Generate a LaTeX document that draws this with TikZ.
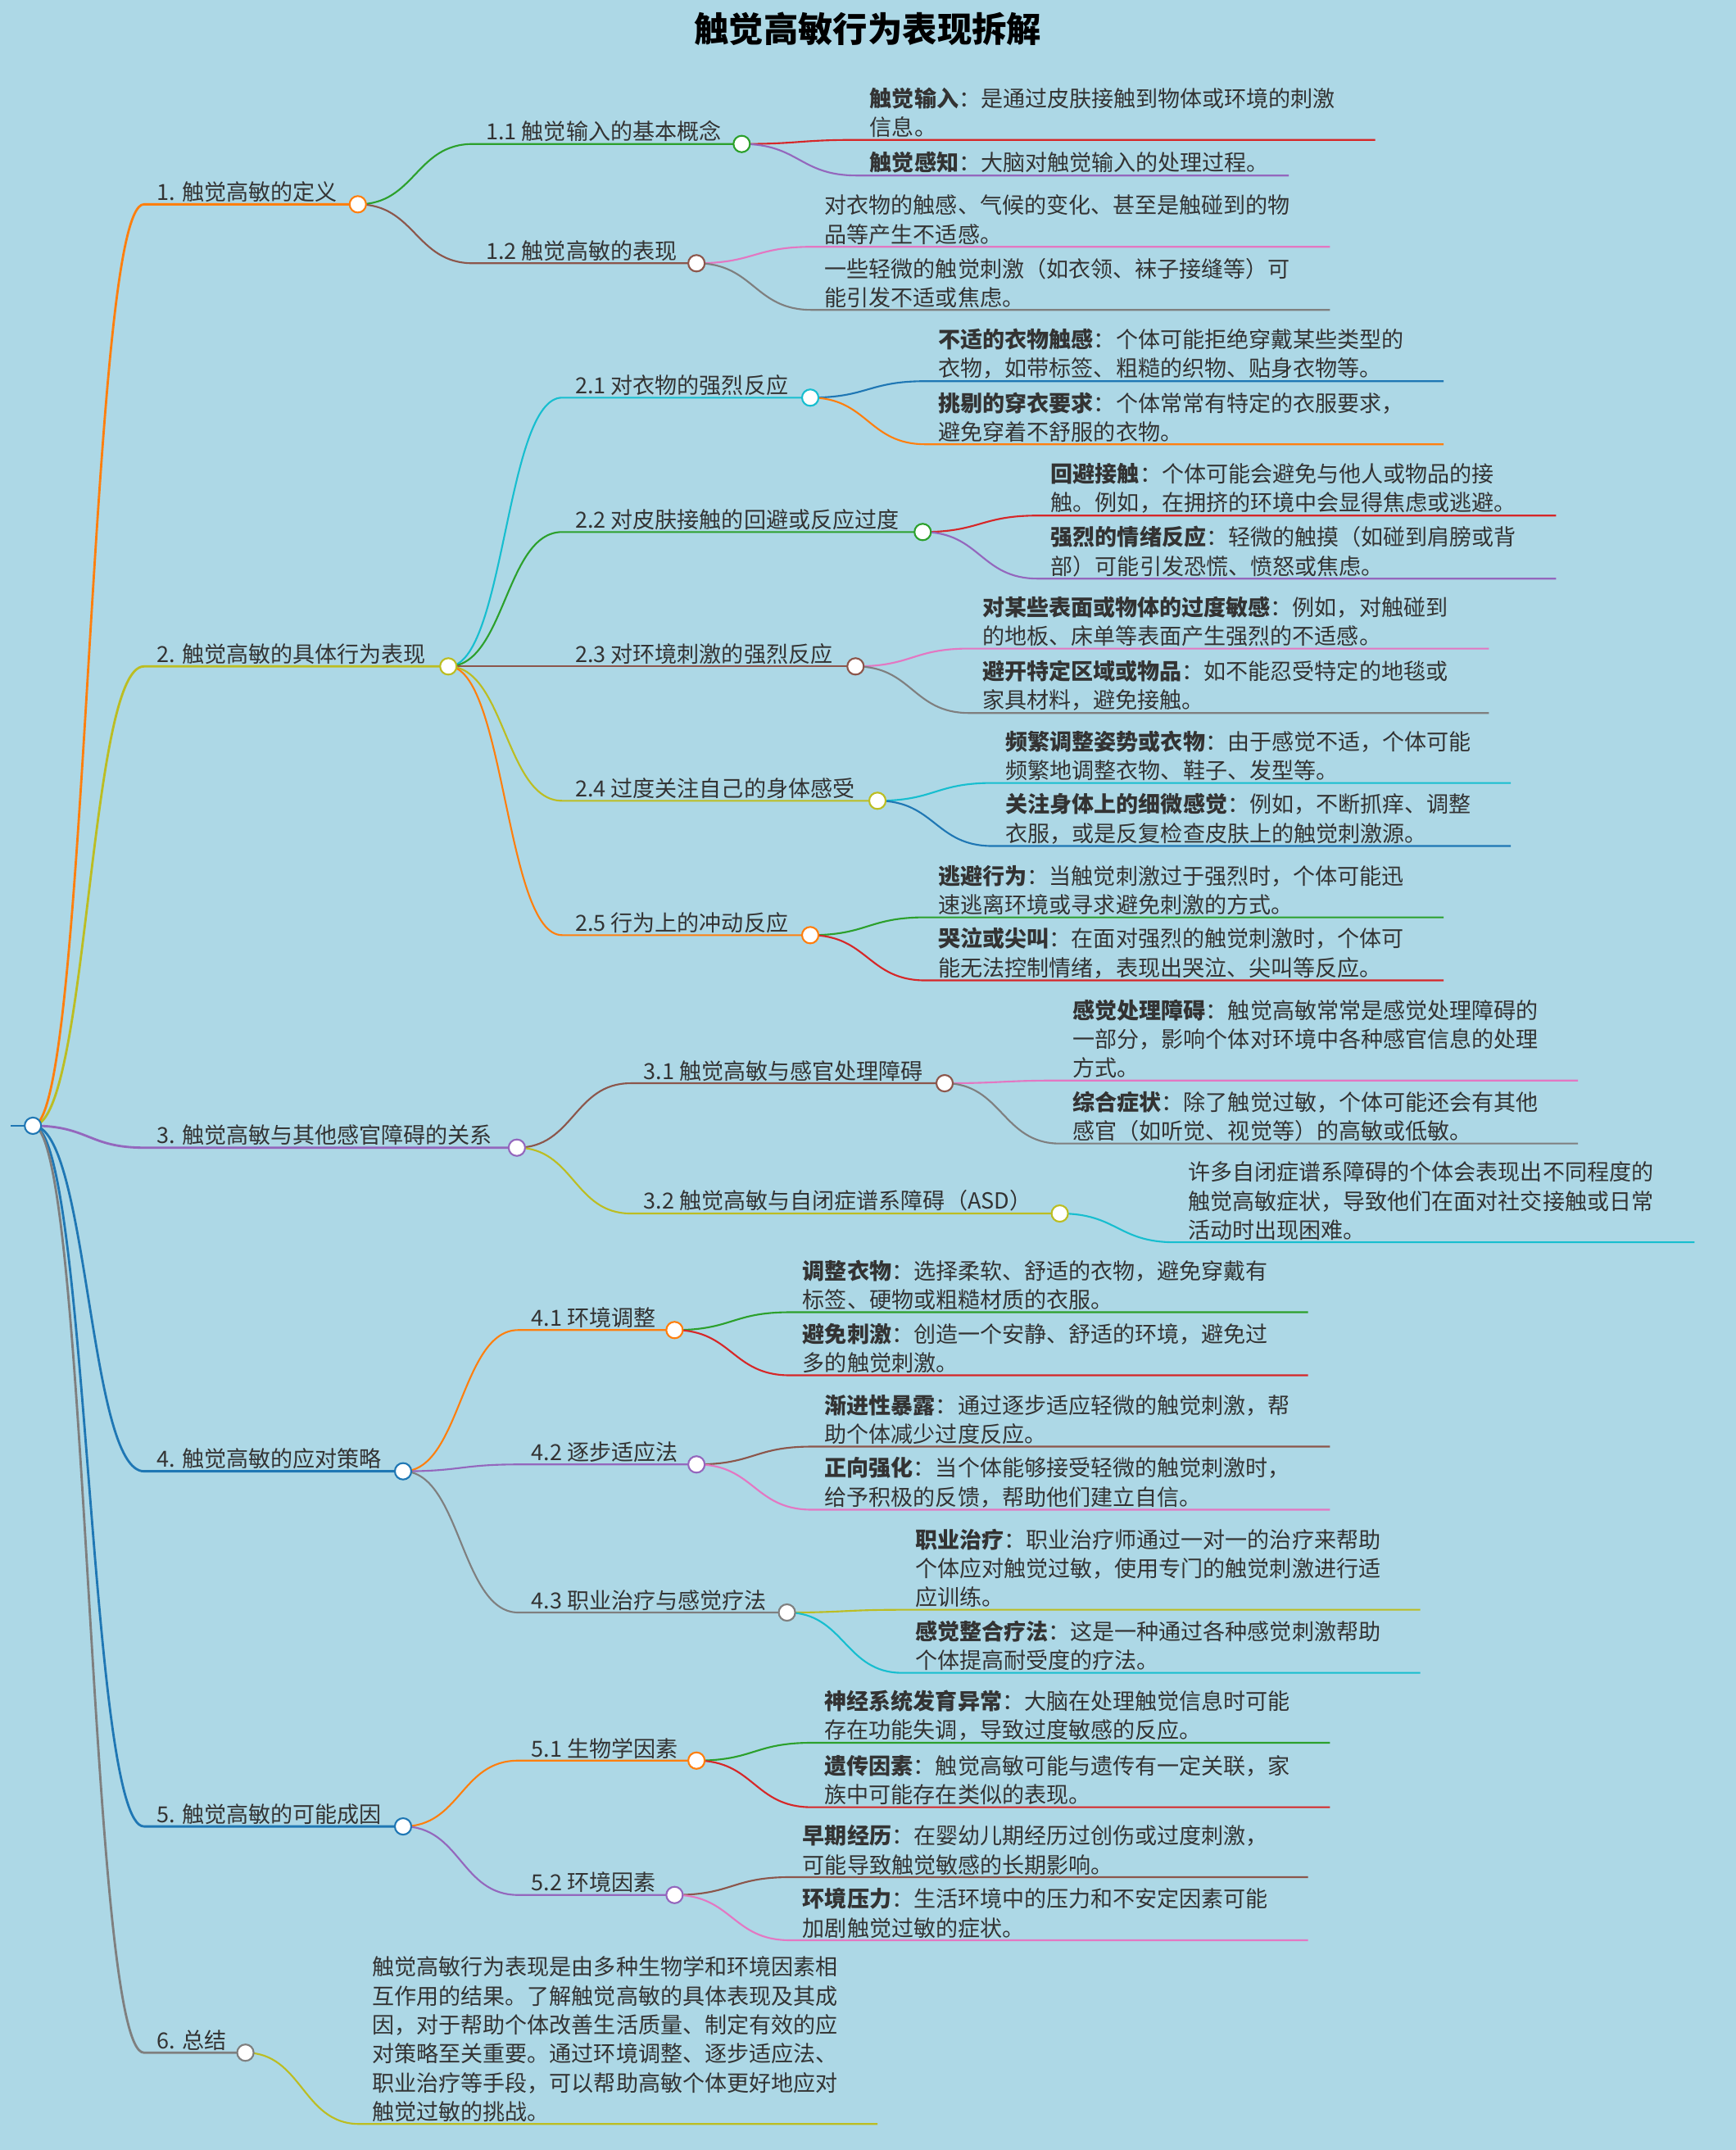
\documentclass[tikz,border=0pt]{standalone}
\usepackage{fontspec}
\setmainfont{Noto Sans CJK SC}
\pgfdeclarelayer{bgfill}\pgfdeclarelayer{bg}
\pgfsetlayers{bgfill,bg,main}
\definecolor{tB}{HTML}{1F77B4}\definecolor{tO}{HTML}{FF7F0E}\definecolor{tG}{HTML}{2CA02C}
\definecolor{tR}{HTML}{D62728}\definecolor{tP}{HTML}{9467BD}\definecolor{tN}{HTML}{8C564B}
\definecolor{tK}{HTML}{E377C2}\definecolor{tY}{HTML}{7F7F7F}\definecolor{tL}{HTML}{BCBD22}
\definecolor{tC}{HTML}{17BECF}\definecolor{bgc}{HTML}{ADD8E6}\definecolor{txt}{HTML}{333333}
\tikzset{l1/.style={line width=2.4pt},l2/.style={line width=1.8pt},
 dot/.style={circle,draw,minimum size=0.6cm,inner sep=0pt},
 lbl/.style={text=txt,font=\fontsize{23}{30}\selectfont,inner sep=2pt,align=left}}
\newcommand\mybr[8]{%
 \begin{pgfonlayer}{bg}\draw[#1] (#2,#3) .. controls ({(#2+#4)/2},#3) and ({(#2+#4)/2},#5) .. (#4,#5) -- (#6,#5);\end{pgfonlayer}
 \node[dot,#1,fill=white,line width=1.8pt] (#7) at (#6,#5) {};
 \node[lbl,anchor=south west] (#7t) at ({#4+8},#5) {#8};}
\newcommand\myleaf[7]{%
 \begin{pgfonlayer}{bg}\draw[#1] (#2,#3) .. controls ({(#2+#4)/2},#3) and ({(#2+#4)/2},#5) .. (#4,#5) -- (#6,#5);\end{pgfonlayer}
 \node[lbl,anchor=south west] at ({#4+8},#5) {#7};}
\begin{document}
\begin{tikzpicture}[x=0.05cm,y=-0.05cm]
\begin{pgfonlayer}{bgfill}\fill[bgc] (0,0) rectangle (1266,1568);\end{pgfonlayer}
\useasboundingbox (0,0) rectangle (1266,1568);
\node[text=black,font=\fontsize{36}{40}\selectfont\bfseries] (title) at (633,21) {触觉高敏行为表现拆解};
\begin{pgfonlayer}{bg}\draw[tB,l1] (8,821) -- (24,821);\end{pgfonlayer}
\node[dot,tB,fill=white,line width=1.8pt] (root) at (24,821) {};
% level 1
\mybr{tO,l1}{24}{821}{105}{149}{261}{n1}{1. 触觉高敏的定义}
\mybr{tL,l1}{24}{821}{105}{486}{327}{n2}{2. 触觉高敏的具体行为表现}
\mybr{tP,l1}{24}{821}{105}{837}{377}{n3}{3. 触觉高敏与其他感官障碍的关系}
\mybr{tB,l1}{24}{821}{105}{1073}{294}{n4}{4. 触觉高敏的应对策略}
\mybr{tB,l1}{24}{821}{105}{1332}{294}{n5}{5. 触觉高敏的可能成因}
\mybr{tY,l1}{24}{821}{105}{1497}{179}{n6}{6. 总结}
% 1
\mybr{tG,l2}{261}{149}{345}{105}{541}{n11}{1.1 触觉输入的基本概念}
\mybr{tN,l2}{261}{149}{345}{192}{508}{n12}{1.2 触觉高敏的表现}
\myleaf{tR,l2}{541}{105}{625}{102}{1003}{\textbf{触觉输入}：是通过皮肤接触到物体或环境的刺激\\信息。}
\myleaf{tP,l2}{541}{105}{625}{128}{940}{\textbf{触觉感知}：大脑对触觉输入的处理过程。}
\myleaf{tK,l2}{508}{192}{592}{180}{970}{对衣物的触感、气候的变化、甚至是触碰到的物\\品等产生不适感。}
\myleaf{tY,l2}{508}{192}{592}{226}{970}{一些轻微的触觉刺激（如衣领、袜子接缝等）可\\能引发不适或焦虑。}
% 2
\mybr{tC,l2}{327}{486}{410}{290}{591}{n21}{2.1 对衣物的强烈反应}
\mybr{tG,l2}{327}{486}{410}{388}{673}{n22}{2.2 对皮肤接触的回避或反应过度}
\mybr{tN,l2}{327}{486}{410}{486}{624}{n23}{2.3 对环境刺激的强烈反应}
\mybr{tL,l2}{327}{486}{410}{584}{640}{n24}{2.4 过度关注自己的身体感受}
\mybr{tO,l2}{327}{486}{410}{682}{591}{n25}{2.5 行为上的冲动反应}
\myleaf{tB,l2}{591}{290}{675}{278}{1053}{\textbf{不适的衣物触感}：个体可能拒绝穿戴某些类型的\\衣物，如带标签、粗糙的织物、贴身衣物等。}
\myleaf{tO,l2}{591}{290}{675}{324}{1053}{\textbf{挑剔的穿衣要求}：个体常常有特定的衣服要求，\\避免穿着不舒服的衣物。}
\myleaf{tR,l2}{673}{388}{757}{376}{1135}{\textbf{回避接触}：个体可能会避免与他人或物品的接\\触。例如，在拥挤的环境中会显得焦虑或逃避。}
\myleaf{tP,l2}{673}{388}{757}{422}{1135}{\textbf{强烈的情绪反应}：轻微的触摸（如碰到肩膀或背\\部）可能引发恐慌、愤怒或焦虑。}
\myleaf{tK,l2}{624}{486}{707}{473}{1086}{\textbf{对某些表面或物体的过度敏感}：例如，对触碰到\\的地板、床单等表面产生强烈的不适感。}
\myleaf{tY,l2}{624}{486}{707}{520}{1086}{\textbf{避开特定区域或物品}：如不能忍受特定的地毯或\\家具材料，避免接触。}
\myleaf{tC,l2}{640}{584}{724}{571}{1102}{\textbf{频繁调整姿势或衣物}：由于感觉不适，个体可能\\频繁地调整衣物、鞋子、发型等。}
\myleaf{tB,l2}{640}{584}{724}{617}{1102}{\textbf{关注身体上的细微感觉}：例如，不断抓痒、调整\\衣服，或是反复检查皮肤上的触觉刺激源。}
\myleaf{tG,l2}{591}{682}{675}{669}{1053}{\textbf{逃避行为}：当触觉刺激过于强烈时，个体可能迅\\速逃离环境或寻求避免刺激的方式。}
\myleaf{tR,l2}{591}{682}{675}{715}{1053}{\textbf{哭泣或尖叫}：在面对强烈的触觉刺激时，个体可\\能无法控制情绪，表现出哭泣、尖叫等反应。}
% 3
\mybr{tN,l2}{377}{837}{460}{790}{689}{n31}{3.1 触觉高敏与感官处理障碍}
\mybr{tL,l2}{377}{837}{460}{885}{773}{n32}{3.2 触觉高敏与自闭症谱系障碍（ASD）}
\myleaf{tK,l2}{689}{790}{773}{788}{1151}{\textbf{感觉处理障碍}：触觉高敏常常是感觉处理障碍的\\一部分，影响个体对环境中各种感官信息的处理\\方式。}
\myleaf{tY,l2}{689}{790}{773}{834}{1151}{\textbf{综合症状}：除了触觉过敏，个体可能还会有其他\\感官（如听觉、视觉等）的高敏或低敏。}
\myleaf{tC,l2}{773}{885}{857}{906}{1236}{许多自闭症谱系障碍的个体会表现出不同程度的\\触觉高敏症状，导致他们在面对社交接触或日常\\活动时出现困难。}
% 4
\mybr{tO,l2}{294}{1073}{378}{970}{492}{n41}{4.1 环境调整}
\mybr{tP,l2}{294}{1073}{378}{1068}{508}{n42}{4.2 逐步适应法}
\mybr{tY,l2}{294}{1073}{378}{1176}{574}{n43}{4.3 职业治疗与感觉疗法}
\myleaf{tG,l2}{492}{970}{576}{957}{954}{\textbf{调整衣物}：选择柔软、舒适的衣物，避免穿戴有\\标签、硬物或粗糙材质的衣服。}
\myleaf{tR,l2}{492}{970}{576}{1003}{954}{\textbf{避免刺激}：创造一个安静、舒适的环境，避免过\\多的触觉刺激。}
\myleaf{tN,l2}{508}{1068}{592}{1055}{970}{\textbf{渐进性暴露}：通过逐步适应轻微的触觉刺激，帮\\助个体减少过度反应。}
\myleaf{tK,l2}{508}{1068}{592}{1101}{970}{\textbf{正向强化}：当个体能够接受轻微的触觉刺激时，\\给予积极的反馈，帮助他们建立自信。}
\myleaf{tL,l2}{574}{1176}{658}{1174}{1036}{\textbf{职业治疗}：职业治疗师通过一对一的治疗来帮助\\个体应对触觉过敏，使用专门的触觉刺激进行适\\应训练。}
\myleaf{tC,l2}{574}{1176}{658}{1220}{1036}{\textbf{感觉整合疗法}：这是一种通过各种感觉刺激帮助\\个体提高耐受度的疗法。}
% 5
\mybr{tO,l2}{294}{1332}{378}{1284}{508}{n51}{5.1 生物学因素}
\mybr{tP,l2}{294}{1332}{378}{1382}{492}{n52}{5.2 环境因素}
\myleaf{tG,l2}{508}{1284}{592}{1271}{970}{\textbf{神经系统发育异常}：大脑在处理触觉信息时可能\\存在功能失调，导致过度敏感的反应。}
\myleaf{tR,l2}{508}{1284}{592}{1318}{970}{\textbf{遗传因素}：触觉高敏可能与遗传有一定关联，家\\族中可能存在类似的表现。}
\myleaf{tN,l2}{492}{1382}{576}{1369}{954}{\textbf{早期经历}：在婴幼儿期经历过创伤或过度刺激，\\可能导致触觉敏感的长期影响。}
\myleaf{tK,l2}{492}{1382}{576}{1415}{954}{\textbf{环境压力}：生活环境中的压力和不安定因素可能\\加剧触觉过敏的症状。}
% 6
\myleaf{tL,l2}{179}{1497}{262}{1549}{640}{触觉高敏行为表现是由多种生物学和环境因素相\\互作用的结果。了解触觉高敏的具体表现及其成\\因，对于帮助个体改善生活质量、制定有效的应\\对策略至关重要。通过环境调整、逐步适应法、\\职业治疗等手段，可以帮助高敏个体更好地应对\\触觉过敏的挑战。}
\end{tikzpicture}
\end{document}
